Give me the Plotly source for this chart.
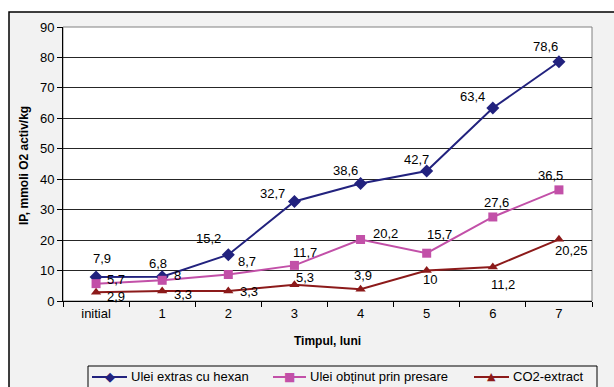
import plotly.graph_objects as go

# ---------------- data ----------------
categories = ["initial", "1", "2", "3", "4", "5", "6", "7"]
hexan = [7.9, 8.0, 15.2, 32.7, 38.6, 42.7, 63.4, 78.6]
presare = [5.7, 6.8, 8.7, 11.7, 20.2, 15.7, 27.6, 36.5]
co2 = [2.9, 3.3, 3.3, 5.3, 3.9, 10.0, 11.2, 20.25]
hexan_labels = ["7,9", "6,8", "15,2", "32,7", "38,6", "42,7", "63,4", "78,6"]
presare_labels = ["5,7", "8", "8,7", "11,7", "20,2", "15,7", "27,6", "36,5"]
co2_labels = ["2,9", "3,3", "3,3", "5,3", "3,9", "10", "11,2", "20,25"]
series_names = ["Ulei extras cu hexan", "Ulei obținut prin presare", "CO2-extract"]
y_ticks = list(range(0, 91, 10))

# ---------------- style ----------------
W, H = 614, 387
L, R, T, B = 63, 592, 27, 301
FONT = "Arial, 'Liberation Sans', sans-serif"
FS = 13
C_HEX = "#22227E"
C_PRES = "#C250A8"
C_CO2 = "#8C1A1A"
BG = "#F2F2F2"

# label offsets in screen pixels (dx right, dy down)
hexan_off = [(6, -18), (-4, -13), (-20, -16), (-22, -8), (-15, -13), (-10, -12), (-20, -11), (-13, -15)]
presare_off = [(20, -4), (15, -5), (19, -13), (11, -13), (25, -6), (13, -19), (4, -14), (-8, -14)]
co2_off = [(20, 4), (21, 4), (21, 1), (11, -7), (2, -14), (3, 9), (10, 18), (13, 11)]


def px(x):
    return (x - L) / (R - L)


def py(y):
    return (B - y) / (B - T)


fig = go.Figure()
for name, vals, col, sym, size in [
    (series_names[0], hexan, C_HEX, "diamond", 10),
    (series_names[1], presare, C_PRES, "square", 9),
    (series_names[2], co2, C_CO2, "triangle-up", 9),
]:
    fig.add_trace(go.Scatter(
        x=categories, y=vals, name=name, mode="lines+markers",
        line=dict(color=col, width=2),
        marker=dict(symbol=sym, size=size, color=col),
        cliponaxis=False, showlegend=False,
    ))

annotations = []
for vals, labels, offs in [(hexan, hexan_labels, hexan_off),
                           (presare, presare_labels, presare_off),
                           (co2, co2_labels, co2_off)]:
    for c, v, t, (dx, dy) in zip(categories, vals, labels, offs):
        annotations.append(dict(
            x=c, y=v, xref="x", yref="y", text=t, showarrow=False,
            xshift=dx, yshift=-dy, xanchor="center", yanchor="middle",
            borderpad=0,
            font=dict(family=FONT, size=FS, color="black"),
        ))

# axis titles
annotations.append(dict(
    x=px(327), y=py(341), xref="paper", yref="paper", text="<b>Timpul, luni</b>",
    showarrow=False, xanchor="center", yanchor="middle",
    font=dict(family=FONT, size=12, color="black"),
))
annotations.append(dict(
    x=px(24), y=py(166), xref="paper", yref="paper", text="<b>IP, mmoli O2 activ/kg</b>",
    showarrow=False, xanchor="center", yanchor="middle", textangle=-90,
    font=dict(family=FONT, size=12, color="black"),
))

shapes = [
    # outer chart frame
    dict(type="rect", xref="paper", yref="paper", x0=px(9), x1=px(640), y0=py(420), y1=py(12),
         fillcolor=BG, line=dict(color="black", width=1.5), layer="below"),
    # plot area
    dict(type="rect", xref="paper", yref="paper", x0=0, x1=1, y0=0, y1=1,
         fillcolor="white", line=dict(color="#808080", width=1), layer="below"),
    # legend box
    dict(type="rect", xref="paper", yref="paper", x0=px(88), x1=px(597), y0=py(400), y1=py(366),
         fillcolor=BG, line=dict(color="black", width=1), layer="below"),
]

# legend items
leg = [
    (92, 127, 129, C_HEX, "◆", 13, series_names[0]),
    (273, 306, 308, C_PRES, "■", 12, series_names[1]),
    (474, 509, 511, C_CO2, "▲", 11, series_names[2]),
]
LY = 377
for x0, x1, xt, col, glyph, gs, name in leg:
    shapes.append(dict(type="line", xref="paper", yref="paper", x0=px(x0), x1=px(x1),
                       y0=py(LY), y1=py(LY), line=dict(color=col, width=2)))
    annotations.append(dict(x=px((x0 + x1) / 2), y=py(LY), xref="paper", yref="paper",
                            text=glyph, showarrow=False, xanchor="center", yanchor="middle",
                            font=dict(family="DejaVu Sans", size=gs, color=col)))
    annotations.append(dict(x=px(xt), y=py(LY), xref="paper", yref="paper", text=name,
                            showarrow=False, xanchor="left", yanchor="middle",
                            font=dict(family=FONT, size=FS, color="black")))

fig.update_layout(
    width=W, height=H,
    margin=dict(l=L, r=W - R, t=T, b=H - B, pad=0, autoexpand=False),
    paper_bgcolor="white", plot_bgcolor="white",
    showlegend=False,
    annotations=annotations, shapes=shapes,
    font=dict(family=FONT, size=FS, color="black"),
)
fig.update_xaxes(
    type="category", categoryorder="array", categoryarray=categories,
    tickson="boundaries", ticks="outside", ticklen=5, tickcolor="black",
    showline=True, linecolor="black", linewidth=1, showgrid=False,
    tickfont=dict(family=FONT, size=FS, color="black"),
    range=[-0.5, len(categories) - 0.5], fixedrange=True,
)
fig.update_yaxes(
    range=[0, 90], tickvals=y_ticks, ticks="outside", ticklen=5, tickcolor="black",
    showline=True, linecolor="black", linewidth=1,
    showgrid=True, gridcolor="#262626", gridwidth=1, zeroline=False,
    tickfont=dict(family=FONT, size=FS, color="black"),
)

fig.write_html("out.html")
